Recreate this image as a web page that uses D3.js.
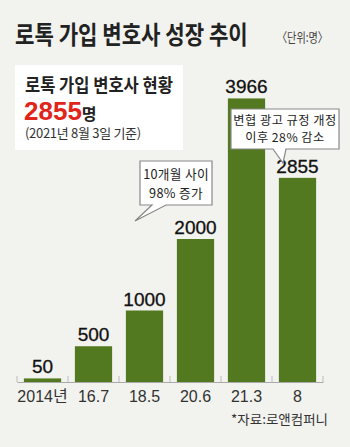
<!DOCTYPE html>
<html><head><meta charset="utf-8">
<script src="https://cdn.jsdelivr.net/npm/d3@7"></script>
<style>
html,body{margin:0;padding:0;background:#f2f2ee;}
svg{display:block;}
</style></head>
<body>
<svg id="c" width="350" height="447"></svg>
<script>
const categories = ["2014년","16.7","18.5","20.6","21.3","8"];
const values = [50,500,1000,2000,3966,2855];

const KR = "'Noto Sans CJK KR','Noto Sans',sans-serif";
const NUM = "'Liberation Sans Narrow','Arial Narrow','Liberation Sans',sans-serif";
const barColor = "#52791f";

const svg = d3.select("#c");
svg.append("rect").attr("width",350).attr("height",447).attr("fill","#f2f2ee");

function fitText(str, x, y, width, anchor, attrs){
  const t = svg.append("text").text(str);
  Object.entries(attrs).forEach(([k,v])=>t.attr(k,v));
  const w = t.node().getComputedTextLength();
  const sx = width / w;
  let x0 = x;
  if(anchor==="end") x0 = x - width;
  if(anchor==="middle") x0 = x - width/2;
  t.attr("transform",`translate(${x0},${y}) scale(${sx},1)`);
  return t;
}

// Title
fitText("로톡 가입 변호사 성장 추이",15,44,233,"start",
  {"font-family":KR,"font-weight":700,"font-size":25,"fill":"#222"});
fitText("〈단위:명〉",328,42,51,"end",
  {"font-family":KR,"font-size":13,"fill":"#444"});

// Info box
svg.append("rect").attr("x",15).attr("y",65).attr("width",168).attr("height",85).attr("fill","#fff");
fitText("로톡 가입 변호사 현황",25,92,148,"start",
  {"font-family":KR,"font-weight":700,"font-size":18,"fill":"#222"});
const t2 = svg.append("text").attr("x",24).attr("y",120);
t2.append("tspan").attr("font-family",NUM).attr("font-weight",700).attr("font-size",26).attr("fill","#e1251b").text("2855");
t2.append("tspan").attr("font-family",KR).attr("font-weight",700).attr("font-size",16).attr("fill","#222").text("명");
t2.append("tspan").attr("x",25).attr("dy",18).attr("font-family",KR).attr("font-size",13)
  .attr("letter-spacing",-0.3).attr("fill","#333").text("(2021년 8월 3일 기준)");

// Scales
const base = 382;
const x = d3.scaleBand().domain(categories).range([17,323]).paddingInner(0.27).paddingOuter(0.135);
const y = d3.scaleLinear().domain([0,4000]).range([base, base-286]);

// Axis
const axis = d3.axisBottom(x).tickSize(0).tickFormat(d=>d);
const gAx = svg.append("g").attr("transform",`translate(0,${base})`).call(axis);
gAx.select(".domain").attr("stroke","#aaa").attr("stroke-width",1.2);
gAx.selectAll("text").attr("font-family","'Liberation Sans','Noto Sans CJK KR',sans-serif")
  .attr("font-size",16).attr("fill","#333").attr("dy","1.05em");
const bounds = d3.range(categories.length+1).map(i=>17+i*x.step());
svg.append("g").selectAll("line").data(bounds).join("line")
  .attr("x1",d=>d).attr("x2",d=>d).attr("y1",base-6).attr("y2",base)
  .attr("stroke","#bbb").attr("stroke-width",1);

// Bars
svg.append("g").selectAll("rect").data(values).join("rect")
  .attr("x",(d,i)=>x(categories[i])).attr("width",x.bandwidth())
  .attr("y",d=>y(d)).attr("height",d=>base-y(d)).attr("fill",barColor);

// Value labels
svg.append("g").selectAll("text").data(values).join("text")
  .attr("x",(d,i)=>x(categories[i])+x.bandwidth()/2).attr("y",d=>y(d)-5)
  .attr("text-anchor","middle").attr("font-family",NUM).attr("font-size",19)
  .attr("fill","#111").attr("stroke","#111").attr("stroke-width",0.3)
  .text(d=>d);

// Callouts
function bubble(x0,y0,x1,y1,ta,tb,tip,lines,cy,gap,fs,ls){
  const p = `M${x0},${y0}H${x1}V${y1}H${tb}L${tip[0]},${tip[1]}L${ta},${y1}H${x0}Z`;
  svg.append("path").attr("d",p).attr("fill","#fff").attr("stroke","#888").attr("stroke-width",1.2);
  const cx = (x0+x1)/2;
  lines.forEach((s,i)=>{
    svg.append("text").attr("x",cx).attr("y",cy+i*gap).attr("text-anchor","middle")
      .attr("font-family",KR).attr("font-size",fs).attr("letter-spacing",ls)
      .attr("fill","#222").text(s);
  });
}
bubble(140,161,212,205,152,166,[135,221],["10개월 사이","98% 증가"],179,18.6,12.7,0.3);
bubble(231,109,339,149,273,286,[283,163],["변협 광고 규정 개정","이후 28% 감소"],124.5,17.8,12.2,0.5);

// Source
fitText("*자료:로앤컴퍼니",328,424,97,"end",
  {"font-family":KR,"font-size":13,"fill":"#333"});
</script>
</body></html>
